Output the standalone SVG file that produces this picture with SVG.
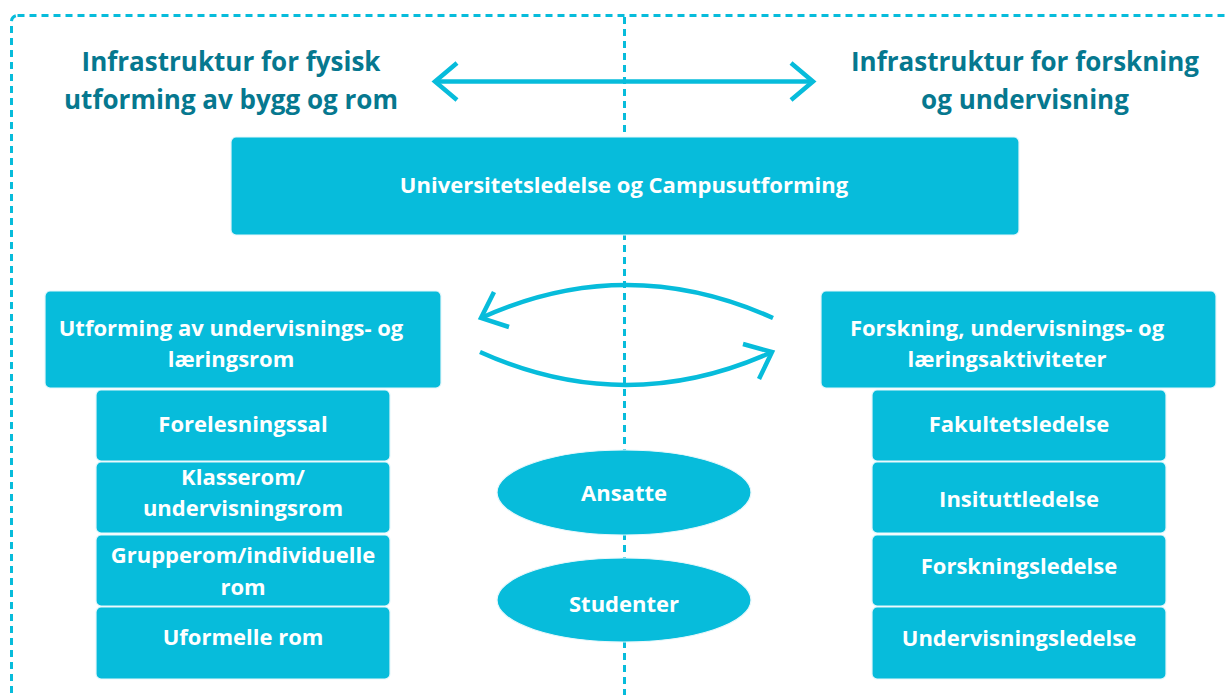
<svg xmlns="http://www.w3.org/2000/svg" width="1226" height="695" viewBox="0 0 1226 695">
<style>
.title{font-family:"Open Sans","Liberation Sans",sans-serif;font-weight:bold;font-size:26px;fill:#06788F;text-anchor:middle}
.lbl{font-family:"Open Sans","Liberation Sans",sans-serif;font-weight:bold;font-size:22px;fill:#ffffff;text-anchor:middle}
.box{fill:#07BCDB;stroke:#E6F7FB;stroke-width:1.2}
.conn{fill:none;stroke:#07BCDB;stroke-width:4.5}
.dash{fill:none;stroke:#07BCDB;stroke-width:3;stroke-dasharray:7 5}
</style>
<rect x="0" y="0" width="1226" height="695" fill="#ffffff"/>
<rect x="11.5" y="15.5" width="1230" height="700" rx="6" fill="#AEDFEE" class="dash"/>
<line x1="624.5" y1="17" x2="624.5" y2="695" class="dash"/>
<text class="title" x="231" y="71">Infrastruktur for fysisk</text>
<text class="title" x="231" y="109">utforming av bygg og rom</text>
<text class="title" x="1025" y="71">Infrastruktur for forskning</text>
<text class="title" x="1025" y="109">og undervisning</text>
<g id="connectors">
<line x1="435" y1="81.5" x2="813" y2="81.5" class="conn"/>
<polyline points="457,63 435,81.5 457,100" class="conn"/>
<polyline points="791,63 813,81.5 791,100" class="conn"/>
<path d="M773,318 Q626,252 481,318" class="conn"/>
<polyline points="494,292 481,318 509,327" class="conn"/>
<path d="M480,352 Q626,418 772,352" class="conn"/>
<polyline points="743,344 772,352 759,379" class="conn"/>
</g>
<g id="top"><rect x="231" y="137" width="788" height="98" rx="5" class="box"/><text class="lbl" x="624" y="193">Universitetsledelse og Campusutforming</text></g>
<g id="left-main"><rect x="45" y="291" width="396" height="97" rx="5" class="box"/><text class="lbl" x="231" y="336">Utforming av undervisnings- og</text><text class="lbl" x="231" y="367">læringsrom</text></g>
<g id="right-main"><rect x="821" y="291" width="395" height="97" rx="5" class="box"/><text class="lbl" x="1007" y="336">Forskning, undervisnings- og</text><text class="lbl" x="1007" y="367">læringsaktiviteter</text></g>
<g id="l1"><rect x="96" y="390" width="294" height="71" rx="5" class="box"/><text class="lbl" x="243" y="432">Forelesningssal</text></g>
<g id="l2"><rect x="96" y="462" width="294" height="71" rx="5" class="box"/><text class="lbl" x="243" y="485">Klasserom/</text><text class="lbl" x="243" y="516">undervisningsrom</text></g>
<g id="l3"><rect x="96" y="535" width="294" height="71" rx="5" class="box"/><text class="lbl" x="243" y="563">Grupperom/individuelle</text><text class="lbl" x="243" y="595">rom</text></g>
<g id="l4"><rect x="96" y="607" width="294" height="72" rx="5" class="box"/><text class="lbl" x="243" y="645">Uformelle rom</text></g>
<g id="r1"><rect x="872" y="390" width="294" height="71" rx="5" class="box"/><text class="lbl" x="1019" y="432">Fakultetsledelse</text></g>
<g id="r2"><rect x="872" y="462" width="294" height="71" rx="5" class="box"/><text class="lbl" x="1019" y="507">Insituttledelse</text></g>
<g id="r3"><rect x="872" y="535" width="294" height="71" rx="5" class="box"/><text class="lbl" x="1019" y="574">Forskningsledelse</text></g>
<g id="r4"><rect x="872" y="607" width="294" height="72" rx="5" class="box"/><text class="lbl" x="1019" y="646">Undervisningsledelse</text></g>
<g id="ansatte"><ellipse cx="624" cy="492.5" rx="127" ry="42.5" class="box"/><text class="lbl" x="624" y="501">Ansatte</text></g>
<g id="studenter"><ellipse cx="624" cy="600" rx="127" ry="42" class="box"/><text class="lbl" x="624" y="612">Studenter</text></g>
</svg>
